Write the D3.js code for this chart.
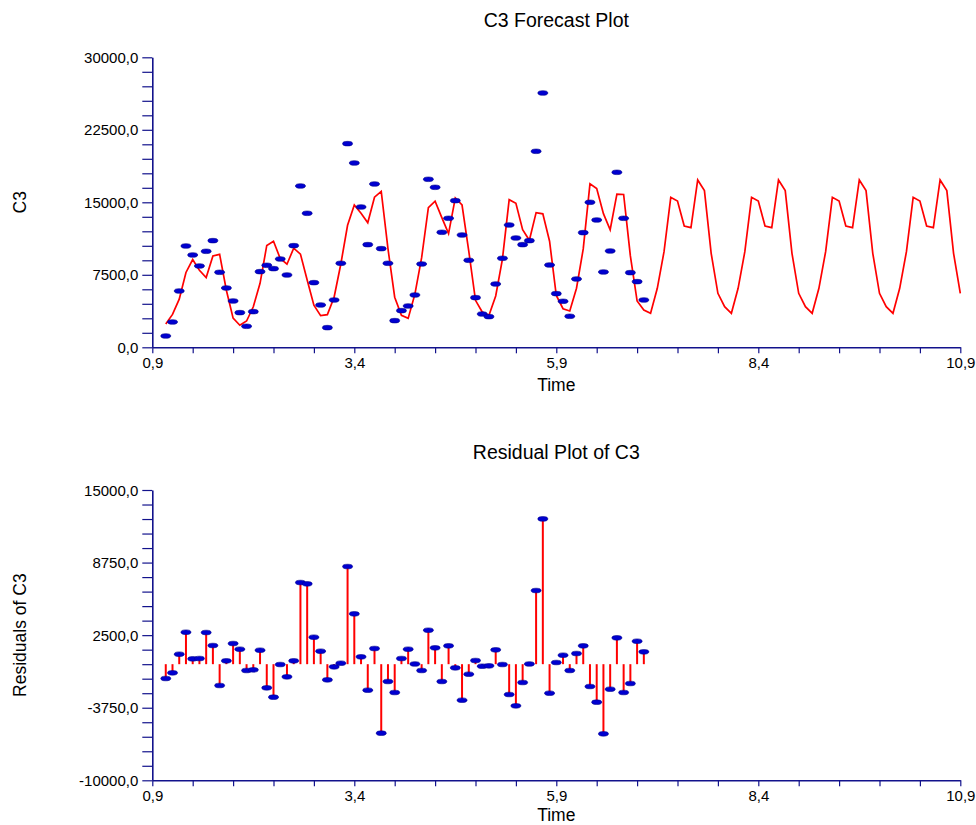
<!DOCTYPE html>
<html>
<head>
<meta charset="utf-8">
<script src="https://cdn.jsdelivr.net/npm/d3@7"></script>
<style>
  body { margin: 0; background: #fff; }
  svg { display: block; }
  text { font-family: Arial, "Liberation Sans", sans-serif; fill: #000; }
</style>
</head>
<body>
<svg id="chart" width="976" height="825"></svg>
<script>
// ---------- data ----------
const actual = [1172, 2620, 5827, 10482, 9551, 8413, 9930, 11034, 7758, 6137,
  4793, 3586, 2172, 3689, 7827, 8482, 8137, 9137, 7482, 10516,
  16688, 13861, 6689, 4379, 2034, 4896, 8689, 21067, 19067, 14516,
  10620, 16895, 10206, 8689, 2758, 3793, 4276, 5413, 8620, 17379,
  16550, 11896, 13344, 15171, 11620, 9000, 5138, 3448, 3172, 6551,
  9206, 12654, 11309, 10620, 11034, 20274, 26308, 8517, 5551, 4758,
  3207, 7068, 11861, 14999, 13172, 7793, 9965, 18102, 13344, 7724,
  6793, 4896];

const fitted = [2410, 3400, 4980, 7740, 9080, 7960, 7220, 9440, 9610, 5900,
  3020, 2285, 2720, 4190, 6620, 10535, 10970, 9185, 8595, 10250,
  9640, 6955, 4355, 3270, 3380, 5180, 8620, 12620, 14730, 13870,
  12880, 15530, 16125, 10200, 5185, 3308, 2990, 5500, 9270, 14450,
  15120, 13420, 11760, 15450, 14720, 9960, 4860, 3650, 3313, 5313,
  9130, 15270, 14896, 12170, 11070, 13930, 13810, 10970, 5360, 3990,
  3755, 6110, 10175, 16910, 16430, 13826, 12160, 15848, 15805, 9450,
  4800, 3850];

const forecast = [3517, 6103, 9896, 15517, 15137, 12551, 12378, 17310, 16206, 9724, 5586, 4207,
  3517, 6103, 9896, 15517, 15137, 12551, 12378, 17310, 16206, 9724, 5586, 4207,
  3517, 6103, 9896, 15517, 15137, 12551, 12378, 17310, 16206, 9724, 5586, 4207,
  3517, 6103, 9896, 15517, 15137, 12551, 12378, 17310, 16206, 9724, 5586];

const residuals = [-1234, -746, 861, 2755, 459, 488, 2727, 1607, -1837, 287,
  1779, 1292, -545, -488, 1205, -2038, -2841, -29, -1091, 287,
  7032, 6917, 2325, 1119, -1349, -230, 86, 8409, 4334, 631,
  -2239, 1349, -5941, -1492, -2440, 488, 1292, 20, -545, 2927,
  1406, -1492, 1579, -316, -3100, -861, 316, -172, -144, 1234,
  -29, -2612, -3588, -1579, 20, 6343, 12513, -2497, 144, 775,
  -545, 918, 1579, -1923, -3272, -5998, -2153, 2267, -2440, -1665,
  1980, 1062];

// time: monthly observations, first at 1 + 1/12
const firstTime = 13 / 12;
const timeStep = 1 / 12;
const xDomain = [11 / 12, 131 / 12];
const xTickLabels = ["0,9", "3,4", "5,9", "8,4", "10,9"];
const topTickLabels = ["0,0", "7500,0", "15000,0", "22500,0", "30000,0"];
const bottomTickLabels = ["-10000,0", "-3750,0", "2500,0", "8750,0", "15000,0"];
const topDomain = [0, 30000];
const bottomDomain = [-10000, 15000];

// ---------- drawing ----------
const svg = d3.select("#chart");
const axisColor = "#12128c";
const left = 152.3, right = 960.3;

const line = fitted.concat(forecast).map((v, i) => ({ t: firstTime + i * timeStep, v }));
const obs = actual.map((v, i) => ({ t: firstTime + i * timeStep, v }));
const res = residuals.map((v, i) => ({ t: firstTime + i * timeStep, v }));

const x = d3.scaleLinear().domain(xDomain).range([left, right]);
const xTicks = d3.range(21).map(k => xDomain[0] + k * 0.5);

function drawXAxis(g, yPos) {
  const ax = d3.axisBottom(x).tickValues(xTicks).tickSize(6).tickSizeOuter(0).tickPadding(4.5)
    .tickFormat((d, i) => i % 5 === 0 ? xTickLabels[i / 5] : "");
  const a = g.append("g").attr("transform", `translate(0,${yPos})`).call(ax);
  styleAxis(a);
  a.selectAll("text").attr("font-size", "15px");
}
function drawYAxis(g, y, labels) {
  const [lo, hi] = y.domain();
  const step = (hi - lo) / 20;
  const vals = d3.range(21).map(k => lo + k * step);
  const ax = d3.axisLeft(y).tickValues(vals).tickSize(10).tickSizeOuter(0).tickPadding(4)
    .tickFormat((d, i) => i % 5 === 0 ? labels[i / 5] : "");
  const a = g.append("g").attr("transform", `translate(${left},0)`).call(ax);
  styleAxis(a);
  a.selectAll("text").attr("font-size", "15px").attr("dy", "0.34em");
}
function styleAxis(a) {
  a.select(".domain").attr("stroke", axisColor).attr("stroke-width", 1.6);
  a.selectAll(".tick line").attr("stroke", axisColor).attr("stroke-width", 1.2);
  a.selectAll("text").attr("fill", "#000").attr("font-family", 'Arial, "Liberation Sans", sans-serif');
}
function drawTitles(g, title, yLabel, top, bottom, timeOffset) {
  const cx = (left + right) / 2;
  g.append("text").attr("x", cx).attr("y", top - 30.6).attr("text-anchor", "middle")
    .attr("font-size", "19.5px").text(title);
  g.append("text").attr("x", cx).attr("y", bottom + timeOffset).attr("text-anchor", "middle")
    .attr("font-size", "17.5px").text("Time");
  g.append("text").attr("transform", `translate(26,${(top + bottom) / 2}) rotate(-90)`)
    .attr("text-anchor", "middle").attr("font-size", "17.5px").text(yLabel);
}

// ---- top: forecast plot ----
const topT = 57.3, topB = 347.3;
const y1 = d3.scaleLinear().domain(topDomain).range([topB, topT]);
const g1 = svg.append("g");
drawTitles(g1, "C3 Forecast Plot", "C3", topT, topB, 43.4);
g1.append("path").datum(line)
  .attr("fill", "none").attr("stroke", "#ff0000").attr("stroke-width", 1.7).attr("stroke-linejoin", "miter")
  .attr("d", d3.line().x(d => x(d.t)).y(d => y1(d.v)));
g1.selectAll("ellipse").data(obs).join("ellipse")
  .attr("cx", d => x(d.t)).attr("cy", d => y1(d.v)).attr("rx", 5).attr("ry", 2.3)
  .attr("fill", "#0000d0").attr("stroke", "#00008b").attr("stroke-width", 0.6);
drawYAxis(g1, y1, topTickLabels);
drawXAxis(g1, topB);

// ---- bottom: residual plot ----
const botT = 490, botB = 780.3;
const y2 = d3.scaleLinear().domain(bottomDomain).range([botB, botT]);
const g2 = svg.append("g");
drawTitles(g2, "Residual Plot of C3", "Residuals of C3", botT, botB, 40.8);
g2.selectAll("line.stem").data(res).join("line").attr("class", "stem")
  .attr("x1", d => x(d.t)).attr("x2", d => x(d.t))
  .attr("y1", y2(0)).attr("y2", d => y2(d.v))
  .attr("stroke", "#ff0000").attr("stroke-width", 2);
g2.selectAll("ellipse").data(res).join("ellipse")
  .attr("cx", d => x(d.t)).attr("cy", d => y2(d.v)).attr("rx", 5).attr("ry", 2.3)
  .attr("fill", "#0000d0").attr("stroke", "#00008b").attr("stroke-width", 0.6);
drawYAxis(g2, y2, bottomTickLabels);
drawXAxis(g2, botB);
</script>
</body>
</html>
